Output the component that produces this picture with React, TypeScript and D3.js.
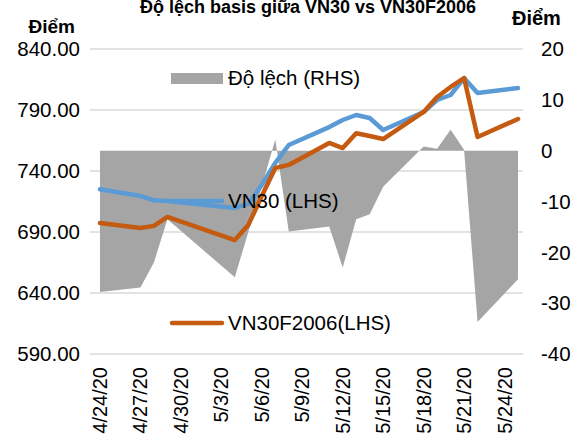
import { useRef, useEffect } from "react";
import * as d3 from "d3";

// trading days shown on the chart
const dates = [
  "2020-04-24", "2020-04-27", "2020-04-28", "2020-04-29", "2020-05-04",
  "2020-05-05", "2020-05-06", "2020-05-07", "2020-05-08", "2020-05-11",
  "2020-05-12", "2020-05-13", "2020-05-14", "2020-05-15", "2020-05-18",
  "2020-05-19", "2020-05-20", "2020-05-21", "2020-05-22", "2020-05-25",
];

const vn30 = [
  725, 719.5, 716, 715.4, 709.7, 713, 728.5, 746.6, 761.3, 776,
  781.8, 785.9, 783.4, 773.6, 788.4, 798.2, 802.3, 816.2, 803.9, 808,
];

const vn30f = [
  697.4, 693.3, 695, 702.3, 683.4, 695.7, 719.5, 742.5, 745, 763,
  758.8, 771, 768.7, 766.2, 788.4, 800.7, 808.9, 816.2, 767.9, 782.6,
];

// Độ lệch (RHS)
const spread = [
  -27.8, -26.9, -22, -13.5, -24.9, -16, -7, 2.2, -15.9, -14.9,
  -23, -13.5, -12.5, -7.1, 0.8, 0.4, 4.1, 0.2, -33.7, -25.3,
];

const leftTicks = [590, 640, 690, 740, 790, 840];
const rightTicks = [-40, -30, -20, -10, 0, 10, 20];

const W = 581;
const H = 439;
const FONT = "'Liberation Sans', Arial, sans-serif";

const DAY = 24 * 3600 * 1000;

export default function App() {
  const svgRef = useRef<SVGSVGElement | null>(null);

  useEffect(() => {
    const svg = d3.select(svgRef.current);
    svg.selectAll("*").remove();

    const parse = d3.timeParse("%Y-%m-%d");
    const days = dates.map((d) => parse(d) as Date);
    const first = days[0];
    const last = days[days.length - 1];

    const plot = { left: 90, right: 523, top: 49, bottom: 354 };

    const x = d3
      .scaleTime()
      .domain([new Date(+first - 0.74 * DAY), new Date(+last + 0.37 * DAY)])
      .range([plot.left, plot.right]);

    const yL = d3.scaleLinear().domain([590, 840]).range([plot.bottom, plot.top]);
    const yR = d3.scaleLinear().domain([-40, 20]).range([plot.bottom, plot.top]);

    // background
    svg.append("rect").attr("width", W).attr("height", H).attr("fill", "#fff");

    // gridlines
    svg
      .append("g")
      .selectAll("line")
      .data(leftTicks)
      .join("line")
      .attr("x1", plot.left)
      .attr("x2", plot.right)
      .attr("y1", (d) => yL(d))
      .attr("y2", (d) => yL(d))
      .attr("stroke", "#d9d9d9")
      .attr("stroke-width", 1.5);

    // area for spread
    const area = d3
      .area<number>()
      .x((_, i) => x(days[i]))
      .y0(yR(0))
      .y1((d) => yR(d));

    svg.append("path").datum(spread).attr("d", area).attr("fill", "#a5a5a5");

    const line = d3
      .line<number>()
      .x((_, i) => x(days[i]))
      .y((d) => yL(d));

    svg
      .append("path")
      .datum(vn30)
      .attr("d", line)
      .attr("fill", "none")
      .attr("stroke", "#5b9bd5")
      .attr("stroke-width", 4.5)
      .attr("stroke-linejoin", "round")
      .attr("stroke-linecap", "round");

    svg
      .append("path")
      .datum(vn30f)
      .attr("d", line)
      .attr("fill", "none")
      .attr("stroke", "#c55a11")
      .attr("stroke-width", 4.5)
      .attr("stroke-linejoin", "round")
      .attr("stroke-linecap", "round");

    // left axis labels
    svg
      .append("g")
      .selectAll("text")
      .data(leftTicks)
      .join("text")
      .attr("x", 80)
      .attr("y", (d) => yL(d))
      .attr("dy", "0.35em")
      .attr("text-anchor", "end")
      .attr("font-family", FONT)
      .attr("font-size", 20.5)
      .attr("fill", "#000")
      .text((d) => d3.format(".2f")(d));

    // right axis labels
    svg
      .append("g")
      .selectAll("text")
      .data(rightTicks)
      .join("text")
      .attr("x", 541)
      .attr("y", (d) => yR(d))
      .attr("dy", "0.35em")
      .attr("text-anchor", "start")
      .attr("font-family", FONT)
      .attr("font-size", 20.5)
      .attr("fill", "#000")
      .text((d) => String(d));

    // x axis labels
    const xTicks = d3.timeDay.range(first, new Date(+last), 3);
    const fmt = d3.timeFormat("%-m/%-d/%y");
    svg
      .append("g")
      .selectAll("text")
      .data(xTicks)
      .join("text")
      .attr("transform", (d) => `translate(${x(d)},367) rotate(-90)`)
      .attr("dy", "0.35em")
      .attr("text-anchor", "end")
      .attr("font-family", FONT)
      .attr("font-size", 20)
      .attr("fill", "#000")
      .text((d) => fmt(d));

    // titles
    svg
      .append("text")
      .attr("x", 308)
      .attr("y", 13)
      .attr("text-anchor", "middle")
      .attr("font-family", FONT)
      .attr("font-weight", "bold")
      .attr("font-size", 18)
      .attr("fill", "#000")
      .text("Độ lệch basis giữa VN30 vs VN30F2006");

    svg
      .append("text")
      .attr("x", 75)
      .attr("y", 33)
      .attr("text-anchor", "end")
      .attr("font-family", FONT)
      .attr("font-weight", "bold")
      .attr("font-size", 19)
      .attr("fill", "#000")
      .text("Điểm");

    svg
      .append("text")
      .attr("x", 512)
      .attr("y", 25)
      .attr("text-anchor", "start")
      .attr("font-family", FONT)
      .attr("font-weight", "bold")
      .attr("font-size", 20)
      .attr("fill", "#000")
      .text("Điểm");

    // legend
    const lg = svg.append("g");
    lg.append("rect")
      .attr("x", 171)
      .attr("y", 73)
      .attr("width", 52)
      .attr("height", 11)
      .attr("fill", "#a5a5a5");
    lg.append("line")
      .attr("x1", 172)
      .attr("x2", 222)
      .attr("y1", 201)
      .attr("y2", 201)
      .attr("stroke", "#5b9bd5")
      .attr("stroke-width", 4.5)
      .attr("stroke-linecap", "round");
    lg.append("line")
      .attr("x1", 172)
      .attr("x2", 222)
      .attr("y1", 323)
      .attr("y2", 323)
      .attr("stroke", "#c55a11")
      .attr("stroke-width", 4.5)
      .attr("stroke-linecap", "round");

    const legendText = [
      { t: "Độ lệch (RHS)", y: 78 },
      { t: "VN30 (LHS)", y: 201 },
      { t: "VN30F2006(LHS)", y: 323 },
    ];
    lg.selectAll("text")
      .data(legendText)
      .join("text")
      .attr("x", 228)
      .attr("y", (d) => d.y)
      .attr("dy", "0.35em")
      .attr("font-family", FONT)
      .attr("font-size", 20.5)
      .attr("fill", "#000")
      .text((d) => d.t);
  }, []);

  return (
    <svg
      ref={svgRef}
      width={W}
      height={H}
      style={{ position: "absolute", left: 0, top: 0, display: "block" }}
    />
  );
}
